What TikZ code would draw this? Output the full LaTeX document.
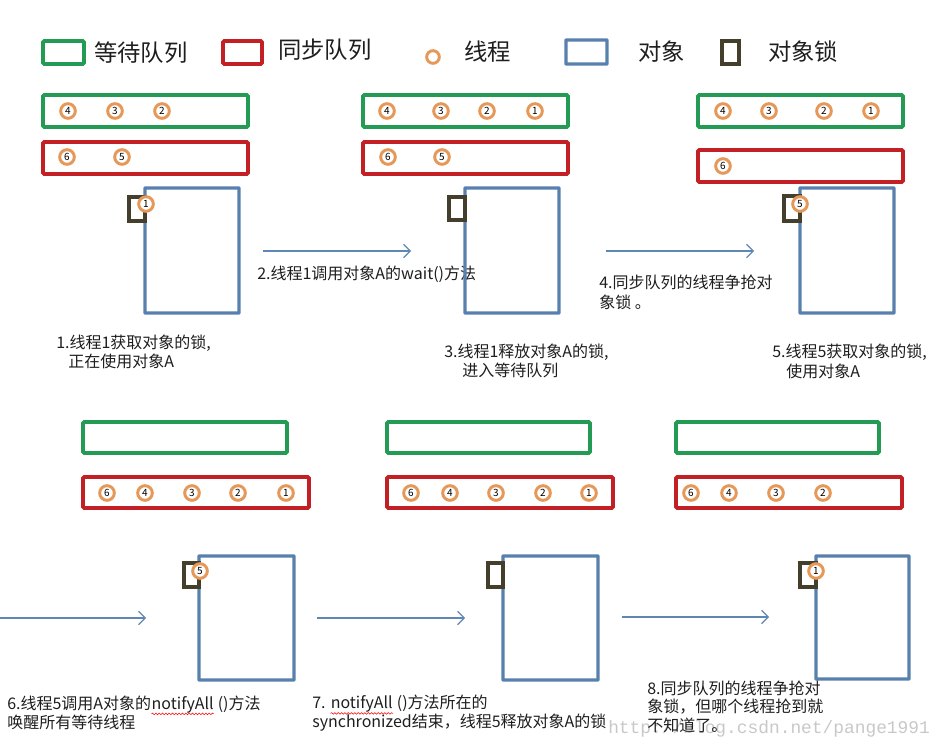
\documentclass[tikz,border=0pt]{standalone}
\usepackage{fontspec}
\setmainfont{Noto Sans CJK SC}
\newfontfamily\wmfont{Liberation Mono}
\usetikzlibrary{fit,arrows.meta,decorations.pathmorphing}

\definecolor{qgreen}{RGB}{35,155,85}
\definecolor{qred}{RGB}{195,32,38}
\definecolor{thorange}{RGB}{230,152,88}
\definecolor{objblue}{RGB}{88,128,172}
\definecolor{lockc}{RGB}{68,62,45}
\definecolor{arrowc}{RGB}{95,135,180}
\definecolor{txt}{RGB}{30,30,30}
\definecolor{wmgray}{RGB}{200,200,200}

\tikzset{
  waitq/.style={draw=qgreen, line width=2.7pt, inner sep=0pt, rounded corners=0.8pt},
  syncq/.style={draw=qred, line width=2.7pt, inner sep=0pt, rounded corners=0.8pt},
  objbox/.style={draw=objblue, line width=2.6pt, inner sep=0pt, rounded corners=0.5pt},
  lockbox/.style={draw=lockc, line width=3pt, inner sep=0pt},
  thread/.style={circle, draw=thorange, fill=white, line width=2.2pt,
    minimum size=11pt, inner sep=0pt, text=black,
    font=\fontsize{7.5}{7.5}\selectfont},
  flow/.style={draw=arrowc, line width=0.8pt,
    -{Straight Barb[length=5pt,width=10pt]}},
  lbl/.style={anchor=west, inner sep=0pt, text=txt,
    font=\fontsize{12}{14}\selectfont},
  leg/.style={anchor=west, inner sep=0pt, text=txt,
    font=\fontsize{17.5}{20}\selectfont},
  spell/.style={draw=red, line width=0.4pt, decorate,
    decoration={snake, amplitude=0.6pt, segment length=2.5pt}},
}

\begin{document}
\begin{tikzpicture}[x=0.75pt,y=-0.75pt]
\useasboundingbox (0,0) rectangle (947,752);

% ---------- legend ----------
\node[waitq, fit={(43,41)(84,64)}] (lgw) {};
\node[leg] (lgwt) at (94,53) {等待队列};
\node[syncq, fit={(223,41)(262,64)}] (lgs) {};
\node[leg] (lgst) at (278,50) {同步队列};
\node[thread, minimum size=9.5pt] (lgt) at (433,57) {};
\node[leg] (lgtt) at (464,52) {线程};
\node[objbox, fit={(566,40)(607,64)}] (lgo) {};
\node[leg] (lgot) at (638,52) {对象};
\node[lockbox, fit={(722,41)(739,64)}] (lgk) {};
\node[leg] (lgkt) at (768,52) {对象锁};

% ---------- step 1 ----------
\node[waitq, fit={(43,95)(248,127)}] (w1) {};
\node[syncq, fit={(43,142)(248,174)}] (s1) {};
\node[objbox, fit={(145,188)(239,313)}] (o1) {};
\node[lockbox, fit={(129,197)(145,221)}] (k1) {};
\node[thread] (w1a) at (68,111) {4};
\node[thread] (w1b) at (115,111) {3};
\node[thread] (w1c) at (162,111) {2};
\node[thread] (s1a) at (67,157) {6};
\node[thread] (s1b) at (122,157) {5};
\node[thread] (k1t) at (146,204) {1};
\node[lbl] (t1a) at (56,343) {1.线程1获取对象的锁,};
\node[lbl] (t1b) at (68,361) {正在使用对象A};

% ---------- step 2 / 3 ----------
\coordinate (a1s) at (263,251);
\coordinate (a1e) at (411,251);
\draw[flow] (a1s) -- (a1e);
\node[lbl] (t2) at (257,274) {2.线程1调用对象A的wait()方法};

\node[waitq, fit={(363,95)(568,127)}] (w2) {};
\node[syncq, fit={(363,142)(568,174)}] (s2) {};
\node[objbox, fit={(465,188)(559,313)}] (o2) {};
\node[lockbox, fit={(449,197)(465,220)}] (k2) {};
\node[thread] (w2a) at (387,111) {4};
\node[thread] (w2b) at (441,111) {3};
\node[thread] (w2c) at (487,111) {2};
\node[thread] (w2d) at (535,111) {1};
\node[thread] (s2a) at (388,157) {6};
\node[thread] (s2b) at (442,157) {5};
\node[lbl] (t3a) at (444,352) {3.线程1释放对象A的锁,};
\node[lbl] (t3b) at (462,370) {进入等待队列};

% ---------- step 4 / 5 ----------
\coordinate (a2s) at (606,251);
\coordinate (a2e) at (754,251);
\draw[flow] (a2s) -- (a2e);
\node[lbl] (t4a) at (599,282) {4.同步队列的线程争抢对};
\node[lbl] (t4b) at (599,302) {象锁 。};

\node[waitq, fit={(698,95)(903,127)}] (w3) {};
\node[syncq, fit={(698,150)(903,182)}] (s3) {};
\node[objbox, fit={(800,188)(894,313)}] (o3) {};
\node[lockbox, fit={(784,196)(800,221)}] (k3) {};
\node[thread] (w3a) at (723,111) {4};
\node[thread] (w3b) at (769,111) {3};
\node[thread] (w3c) at (824,111) {2};
\node[thread] (w3d) at (871,111) {1};
\node[thread] (s3a) at (723,166) {6};
\node[thread] (k3t) at (800,204) {5};
\node[lbl] (t5a) at (772,352) {5.线程5获取对象的锁,};
\node[lbl] (t5b) at (786,371) {使用对象A};

% ---------- step 6 ----------
\coordinate (a3s) at (0,618);
\coordinate (a3e) at (146,618);
\draw[flow] (a3s) -- (a3e);

\node[waitq, fit={(83,422)(287,453)}] (w4) {};
\node[syncq, fit={(83,477)(309,508)}] (s4) {};
\node[objbox, fit={(199,556)(294,680)}] (o4) {};
\node[lockbox, fit={(184,563)(199,587)}] (k4) {};
\node[thread] (s4a) at (107,493) {6};
\node[thread] (s4b) at (145,493) {4};
\node[thread] (s4c) at (192,493) {3};
\node[thread] (s4d) at (238,493) {2};
\node[thread] (s4e) at (286,493) {1};
\node[thread] (k4t) at (200,571) {5};
\node[lbl] (t6a) at (7,703) {6.线程5调用A对象的};
\node[lbl, anchor=base west] (t6n) at (t6a.base east) {notifyAll};
\node[lbl, anchor=base west] (t6m) at (t6n.base east) {\ ()方法};
\draw[spell] ([yshift=-0.6pt]t6n.south west) -- ([yshift=-0.6pt]t6n.south east);
\node[lbl] (t6b) at (7,722) {唤醒所有等待线程};

% ---------- step 7 ----------
\coordinate (a4s) at (317,618);
\coordinate (a4e) at (465,618);
\draw[flow] (a4s) -- (a4e);

\node[waitq, fit={(387,422)(590,453)}] (w5) {};
\node[syncq, fit={(387,477)(613,508)}] (s5) {};
\node[objbox, fit={(503,556)(598,680)}] (o5) {};
\node[lockbox, fit={(488,563)(503,587)}] (k5) {};
\node[thread] (s5a) at (411,493) {6};
\node[thread] (s5b) at (450,493) {4};
\node[thread] (s5c) at (496,493) {3};
\node[thread] (s5d) at (543,493) {2};
\node[thread] (s5e) at (589,493) {1};
\node[lbl] (t7a) at (312,703) {7.};
\node[lbl, anchor=base west] (t7n) at ([xshift=3.5pt]t7a.base east) {notifyAll};
\node[lbl, anchor=base west] (t7m) at (t7n.base east) {\ ()方法所在的};
\draw[spell] ([yshift=-0.6pt]t7n.south west) -- ([yshift=-0.6pt]t7n.south east);
\node[lbl] (t7b) at (312,723) {synchronized结束，线程5释放对象A的锁};

% ---------- step 8 ----------
\coordinate (a5s) at (622,617);
\coordinate (a5e) at (769,617);
\draw[flow] (a5s) -- (a5e);

\node[waitq, fit={(676,422)(879,453)}] (w6) {};
\node[syncq, fit={(676,477)(902,508)}] (s6) {};
\node[objbox, fit={(816,556)(909,679)}] (o6) {};
\node[lockbox, fit={(800,563)(816,587)}] (k6) {};
\node[thread] (s6a) at (691,493) {6};
\node[thread] (s6b) at (729,493) {4};
\node[thread] (s6c) at (776,493) {3};
\node[thread] (s6d) at (823,493) {2};
\node[thread] (k6t) at (816,571) {1};

\node[anchor=west, inner sep=0pt, text=wmgray, font=\wmfont\fontsize{13.4}{14}\selectfont]
  (wm) at (608,729) {http://blog.csdn.net/pange1991};
\node[lbl] (t8a) at (647,688) {8.同步队列的线程争抢对};
\node[lbl] (t8b) at (647,707) {象锁，但哪个线程抢到就};
\node[lbl] (t8c) at (647,725) {不知道了。};
\end{tikzpicture}
\end{document}
